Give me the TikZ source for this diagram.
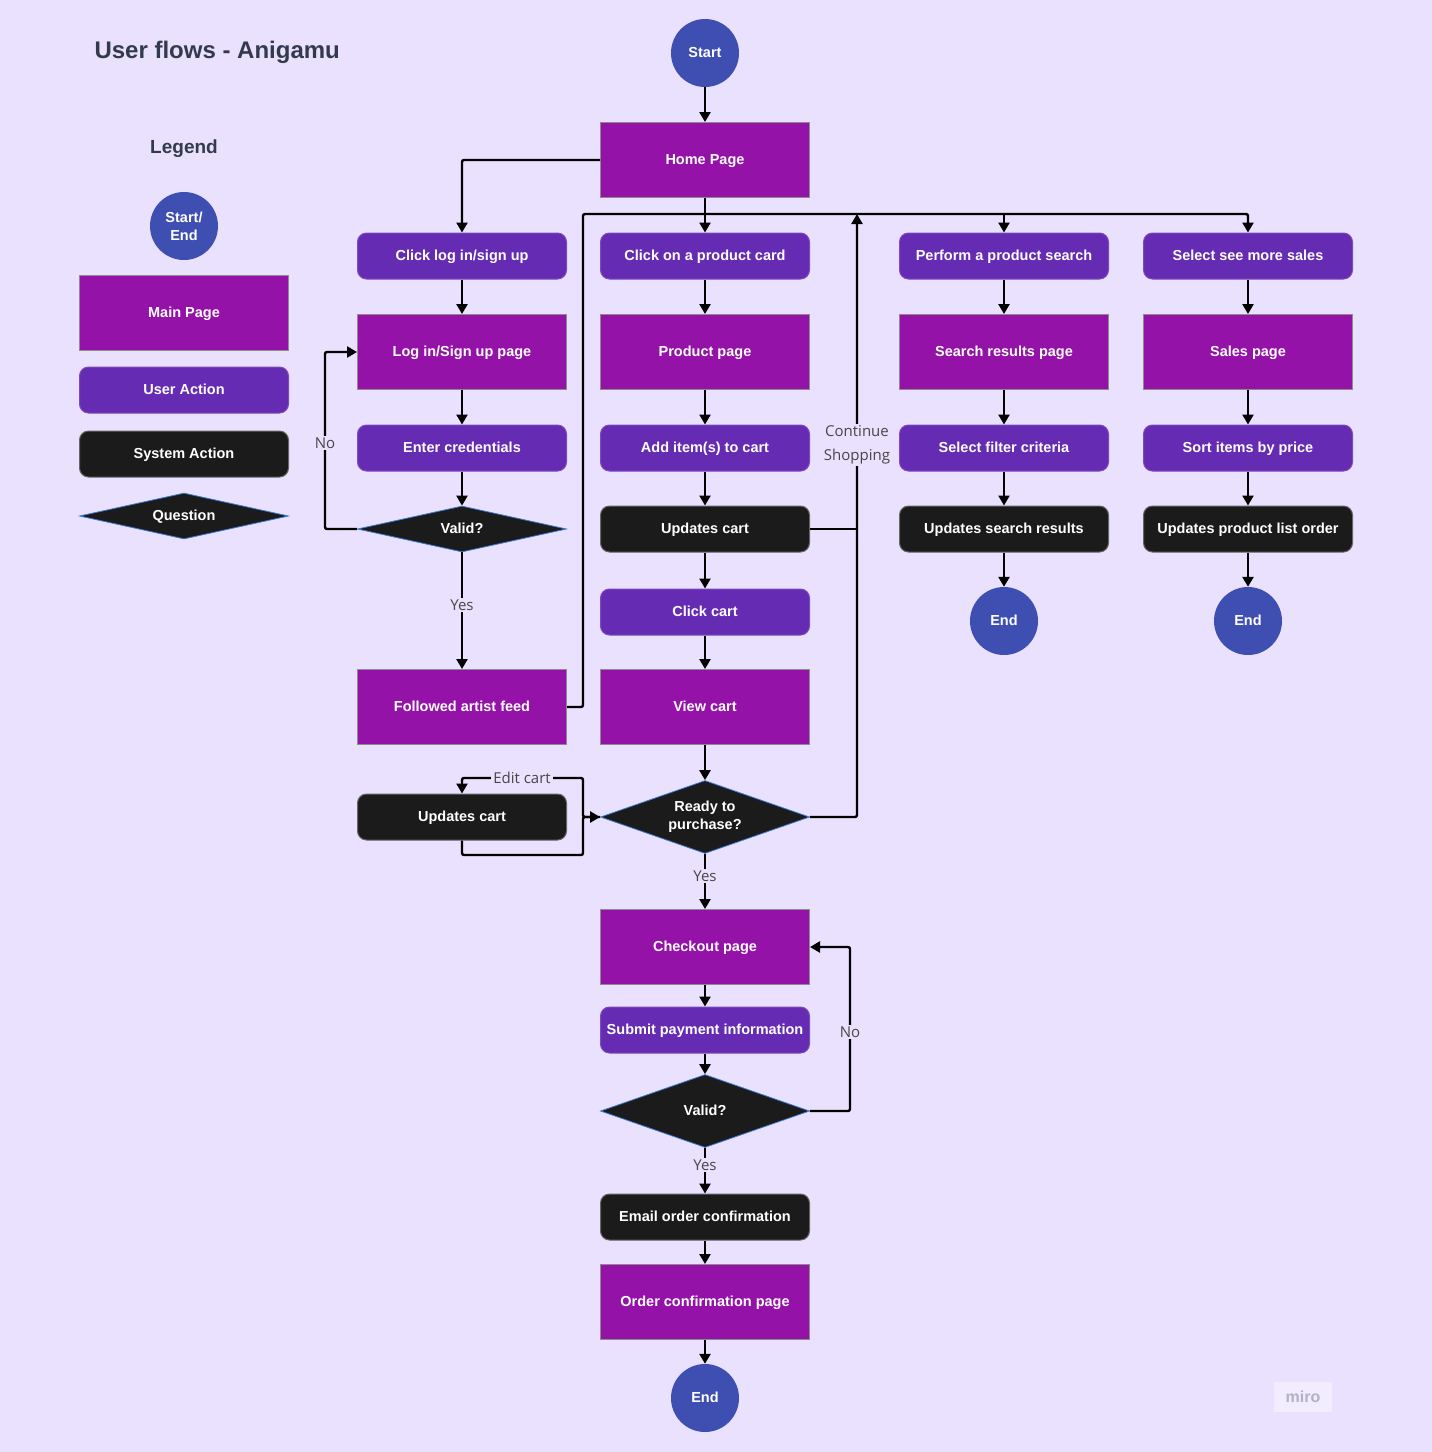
\documentclass[tikz,border=0pt]{standalone}
\usepackage{fontspec}
\setmainfont{Liberation Sans}
\newfontfamily\lblfont{Open Sans}
\usetikzlibrary{shapes.geometric,arrows.meta}
\definecolor{bgc}{HTML}{E9E1FD}
\definecolor{pagec}{HTML}{9512A9}
\definecolor{actc}{HTML}{652BB2}
\definecolor{sysc}{HTML}{1B1B1B}
\definecolor{circc}{HTML}{3F4EB1}
\definecolor{titlec}{HTML}{343A4E}
\definecolor{lblc}{HTML}{474747}
\definecolor{qline}{HTML}{3D7BD0}
\newcommand\bxfont{\fontsize{14.5}{18}\selectfont\bfseries}
\tikzset{
  oneline/.style={text height=11.5pt, text depth=2.5pt},
  pagebox/.style={rectangle, fill=pagec, draw=black!45, line width=1pt, minimum width=209pt, minimum height=75pt, text=white, font=\bxfont, inner sep=2pt, oneline},
  actbox/.style={rectangle, rounded corners=9pt, fill=actc, draw=actc!85!white, line width=1pt, minimum width=209pt, minimum height=46pt, text=white, font=\bxfont, inner sep=2pt, oneline},
  sysbox/.style={rectangle, rounded corners=9pt, fill=sysc, draw=black!60, line width=1pt, minimum width=209pt, minimum height=46pt, text=white, font=\bxfont, inner sep=2pt, oneline},
  endcirc/.style={circle, fill=circc, minimum size=68pt, inner sep=0pt, text=white, font=\bxfont, align=center},
  question/.style={diamond, fill=sysc, draw=qline, line width=0.8pt, minimum width=209pt, inner sep=0pt, text=white, font=\bxfont, align=center},
  conn/.style={draw=black, line width=2.4pt, -{Triangle[length=10pt,width=11pt]}, rounded corners=2pt},
  plain/.style={draw=black, line width=2.4pt, rounded corners=2pt},
  lbl/.style={fill=bgc, text=lblc, font=\lblfont\fontsize{15}{24}\selectfont, inner sep=2pt, align=center}
}
\begin{document}
\begin{tikzpicture}[x=1pt,y=-1pt]
\fill[bgc] (0,0) rectangle (1432,1452);
\useasboundingbox (0,0) rectangle (1432,1452);
% title and legend
\node[text=titlec, font=\fontsize{24}{28}\selectfont\bfseries, anchor=west] (title) at (91,52) {User flows - Anigamu};
\node[text=titlec, font=\fontsize{19}{22}\selectfont\bfseries] (legtitle) at (184,149) {Legend};
\node[endcirc] (legcirc) at (184,226) {Start/\\End};
\node[pagebox] (legmain) at (184,313) {Main Page};
\node[actbox] (leguser) at (184,390) {User Action};
\node[sysbox] (legsys) at (184,454) {System Action};
\node[question, minimum height=46pt, aspect=4.5, oneline] (legq) at (184,516) {Question};
% main column
\node[endcirc, oneline] (start) at (705,53) {Start};
\node[pagebox] (home) at (705,160) {Home Page};
\node[actbox] (clicklog) at (462,256) {Click log in/sign up};
\node[actbox] (clickcard) at (705,256) {Click on a product card};
\node[actbox] (search) at (1004,256) {Perform a product search};
\node[actbox] (seesales) at (1248,256) {Select see more sales};
\node[pagebox] (loginpage) at (462,352) {Log in/Sign up page};
\node[pagebox] (prodpage) at (705,352) {Product page};
\node[pagebox] (searchpage) at (1004,352) {Search results page};
\node[pagebox] (salespage) at (1248,352) {Sales page};
\node[actbox] (enter) at (462,448) {Enter credentials};
\node[actbox] (addcart) at (705,448) {Add item(s) to cart};
\node[actbox] (filter) at (1004,448) {Select filter criteria};
\node[actbox] (sortp) at (1248,448) {Sort items by price};
\node[question, minimum height=46pt, aspect=4.5, oneline] (valid1) at (462,529) {Valid?};
\node[sysbox] (updcart) at (705,529) {Updates cart};
\node[sysbox] (updsearch) at (1004,529) {Updates search results};
\node[sysbox] (updorder) at (1248,529) {Updates product list order};
\node[endcirc, oneline] (end1) at (1004,621) {End};
\node[endcirc, oneline] (end2) at (1248,621) {End};
\node[actbox] (clickcart) at (705,612) {Click cart};
\node[pagebox] (follow) at (462,707) {Followed artist feed};
\node[pagebox] (viewcart) at (705,707) {View cart};
\node[question, minimum height=73pt, aspect=2.86] (ready) at (705,817) {Ready to\\purchase?};
\node[sysbox] (updcart2) at (462,817) {Updates cart};
\node[pagebox] (checkout) at (705,947) {Checkout page};
\node[actbox] (submit) at (705,1030) {Submit payment information};
\node[question, minimum height=73pt, aspect=2.86, oneline] (valid2) at (705,1111) {Valid?};
\node[sysbox] (email) at (705,1217) {Email order confirmation};
\node[pagebox] (orderconf) at (705,1302) {Order confirmation page};
\node[endcirc, oneline] (end3) at (705,1398) {End};
% watermark
\node[fill=white!40!bgc, text=black!22!bgc, font=\fontsize{16}{18}\selectfont\bfseries, minimum width=58pt, minimum height=30pt] (miro) at (1303,1397) {miro};
% helper coordinates
\coordinate (topL) at (583,214);
\coordinate (jS) at (1004,214);
\coordinate (cs) at (857,214);
\coordinate (jU) at (857,529);
\coordinate (noL) at (325,529);
\coordinate (ecA) at (583,817);
\coordinate (ecB) at (583,778);
\coordinate (ecC) at (583,855);
\coordinate (noR) at (850,1111);
% connectors
\draw[conn] (start) -- (home);
\draw[conn] (home.west) -| (clicklog.north);
\draw[conn] (home) -- (clickcard);
\draw[conn] (follow.east) -| (topL) -| (seesales.north);
\draw[conn] (jS) -- (search.north);
\draw[conn] (ready.east) -| (cs);
\draw[plain] (updcart.east) -- (jU);
\node[lbl] (cslbl) at (857,445) {Continue\\Shopping};
\draw[conn] (clicklog) -- (loginpage);
\draw[conn] (loginpage) -- (enter);
\draw[conn] (enter) -- (valid1);
\draw[conn] (valid1.west) -- (noL) |- (loginpage.west);
\node[lbl] (nolbl1) at (325,443) {No};
\draw[conn] (valid1.south) -- (follow.north);
\node[lbl] (yeslbl1) at (462,605) {Yes};
\draw[conn] (clickcard) -- (prodpage);
\draw[conn] (prodpage) -- (addcart);
\draw[conn] (addcart) -- (updcart);
\draw[conn] (updcart) -- (clickcart);
\draw[conn] (clickcart) -- (viewcart);
\draw[conn] (viewcart) -- (ready);
\draw[conn] (search) -- (searchpage);
\draw[conn] (searchpage) -- (filter);
\draw[conn] (filter) -- (updsearch);
\draw[conn] (updsearch) -- (end1);
\draw[conn] (seesales) -- (salespage);
\draw[conn] (salespage) -- (sortp);
\draw[conn] (sortp) -- (updorder);
\draw[conn] (updorder) -- (end2);
\draw[conn] (ready.west) -- (ecA) -- (ecB) -| (updcart2.north);
\draw[conn] (updcart2.south) |- (ecC) -- (ecA) -- (ready.west);
\node[lbl] (editlbl) at (522,778) {Edit cart};
\draw[conn] (ready.south) -- (checkout.north);
\node[lbl] (yeslbl2) at (705,876) {Yes};
\draw[conn] (checkout) -- (submit);
\draw[conn] (submit) -- (valid2);
\draw[conn] (valid2.east) -- (noR) |- (checkout.east);
\node[lbl] (nolbl2) at (850,1032) {No};
\draw[conn] (valid2.south) -- (email.north);
\node[lbl] (yeslbl3) at (705,1165) {Yes};
\draw[conn] (email) -- (orderconf);
\draw[conn] (orderconf) -- (end3);
\end{tikzpicture}
\end{document}
